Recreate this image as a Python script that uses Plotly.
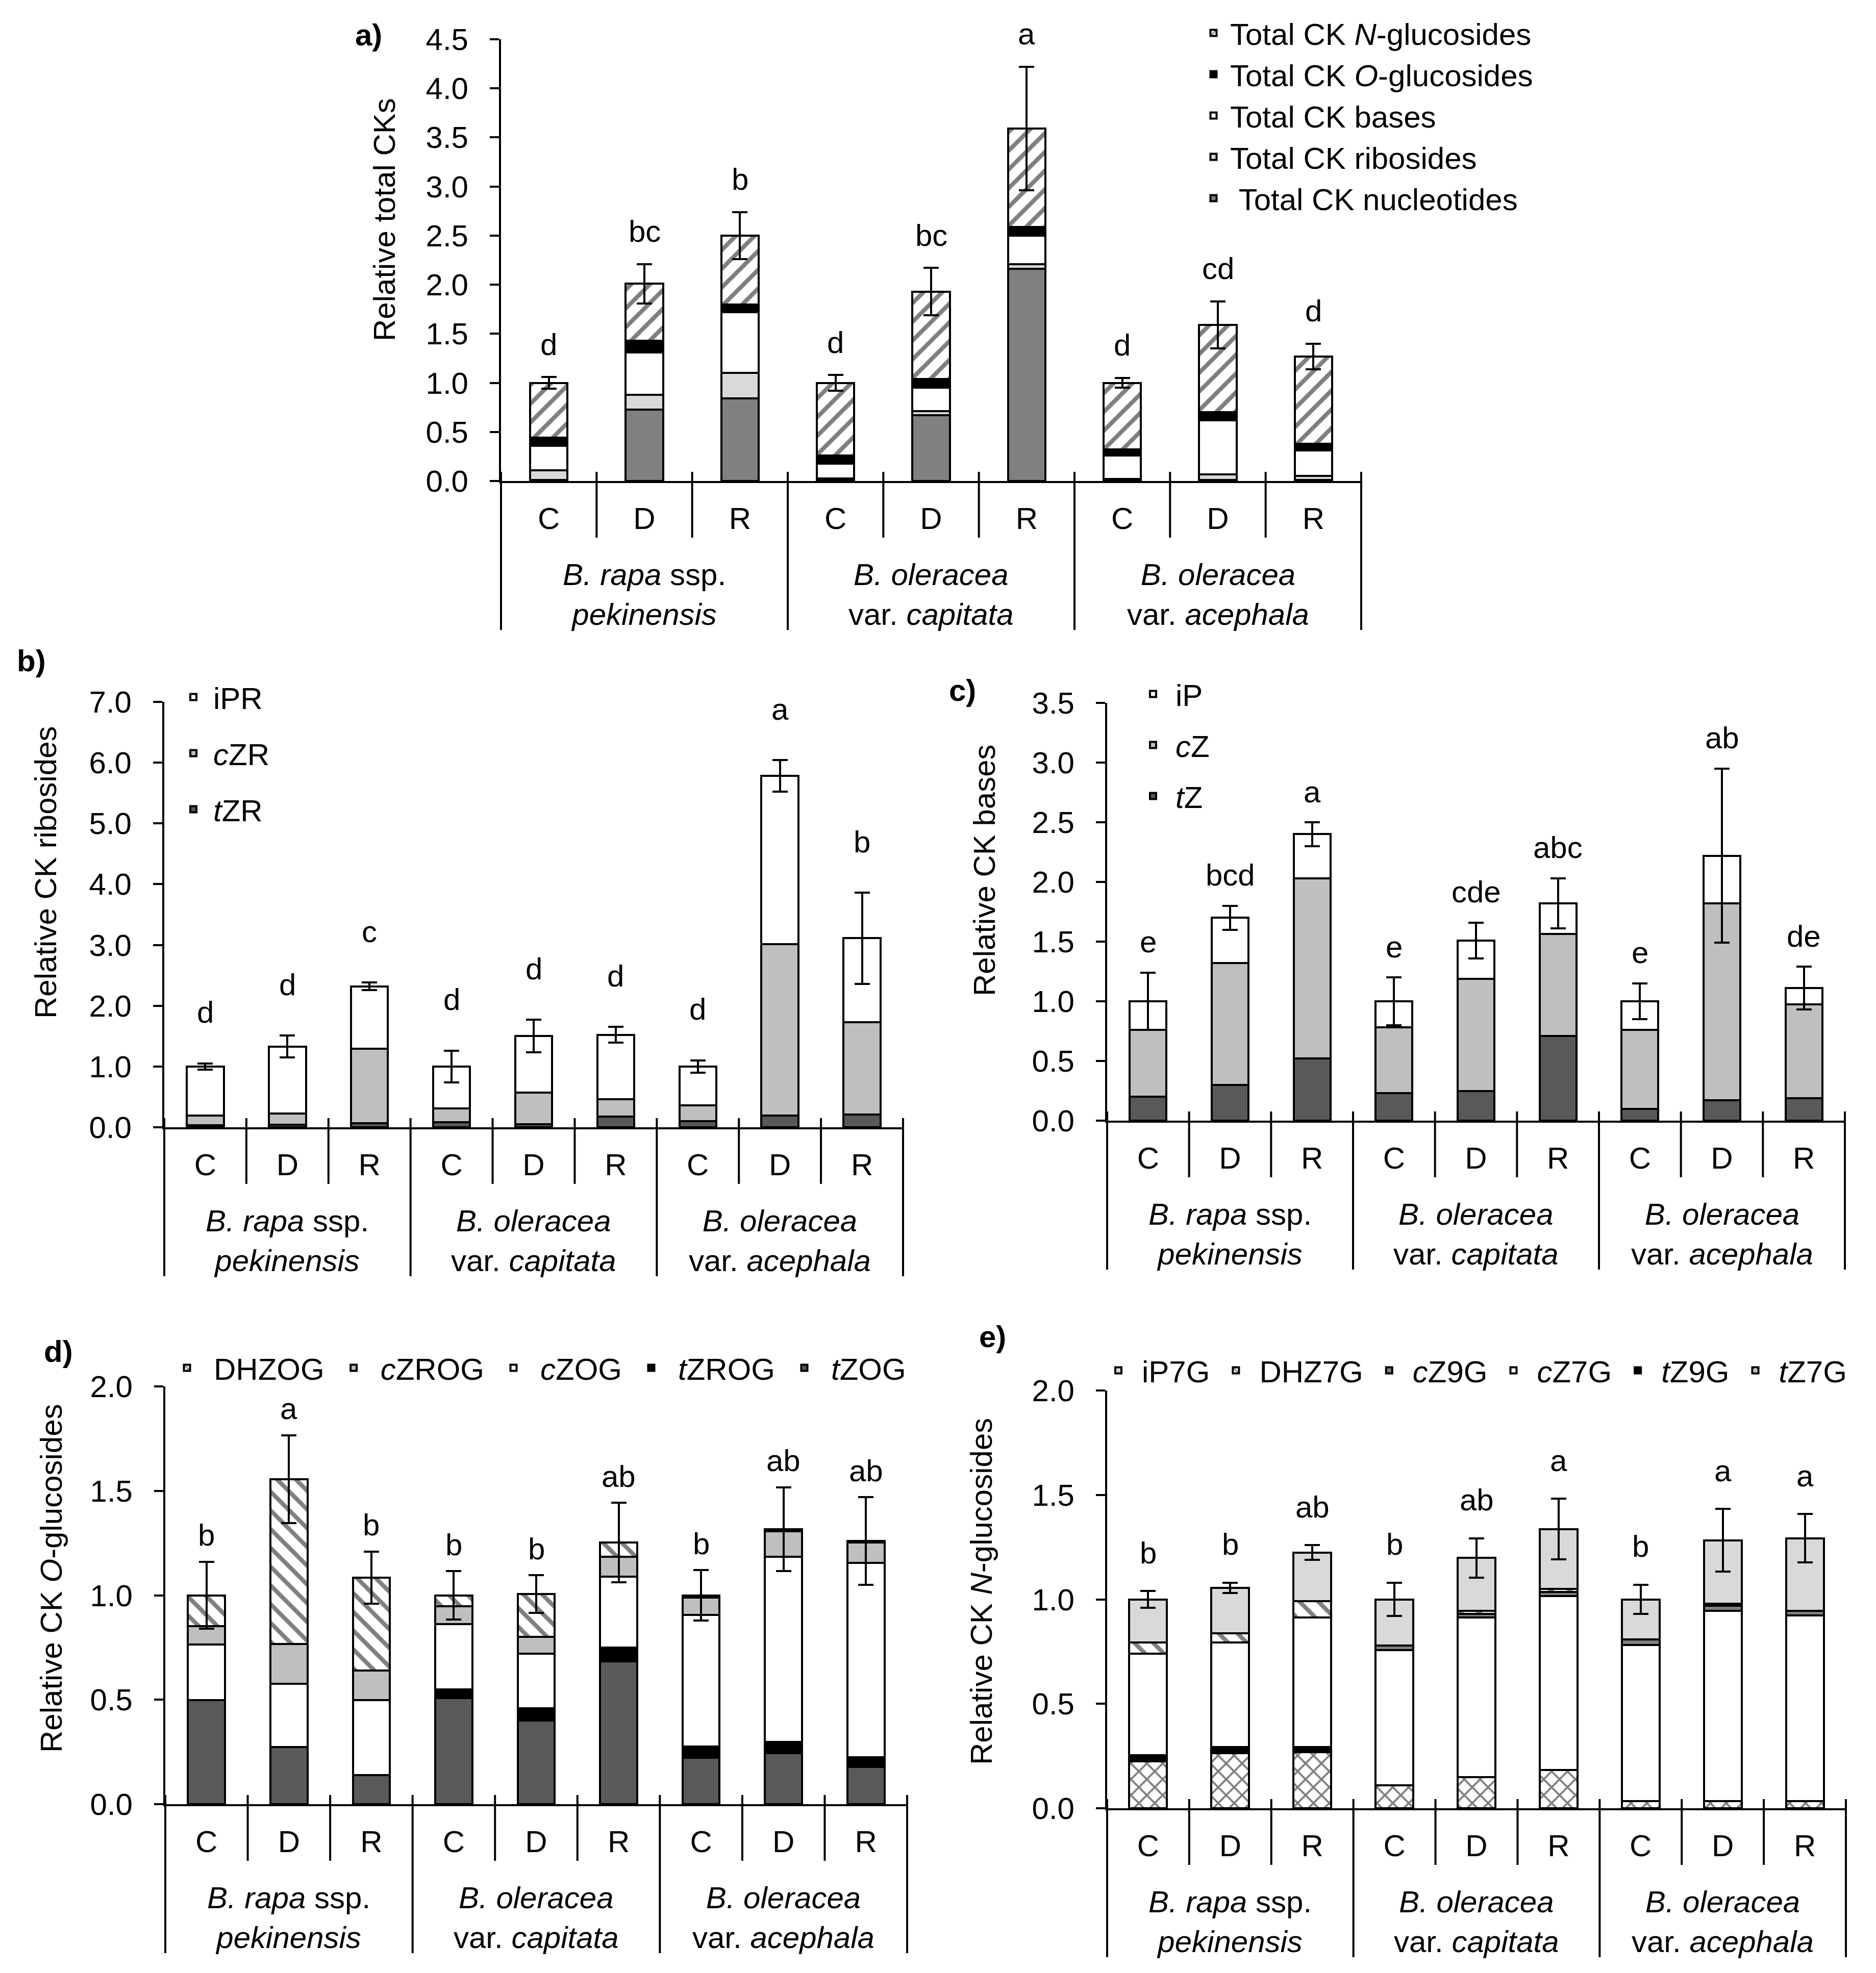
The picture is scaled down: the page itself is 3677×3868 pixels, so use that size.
import plotly.graph_objects as go

W, H = 3677, 3868
FONT = "Liberation Sans, Arial, sans-serif"

species = ["<i>B. rapa</i> ssp.<br><i>pekinensis</i>",
           "<i>B. oleracea</i><br>var. <i>capitata</i>",
           "<i>B. oleracea</i><br>var. <i>acephala</i>"]
treatments = ["C", "D", "R"]

# a) total CKs, segments bottom -> top
total_nucleotides = [0.01, 0.73, 0.84, 0.01, 0.67, 2.16, 0.01, 0.01, 0.01]
total_ribosides = [0.10, 0.15, 0.26, 0.015, 0.04, 0.05, 0.01, 0.06, 0.04]
total_bases = [0.25, 0.43, 0.62, 0.15, 0.24, 0.29, 0.24, 0.55, 0.26]
total_o_gluc = [0.08, 0.12, 0.08, 0.085, 0.09, 0.09, 0.06, 0.08, 0.07]
total_n_gluc = [0.56, 0.58, 0.70, 0.74, 0.89, 1.00, 0.68, 0.89, 0.89]
err_a = [0.06, 0.20, 0.24, 0.08, 0.24, 0.63, 0.05, 0.24, 0.13]
letters_a = ["d", "bc", "b", "d", "bc", "a", "d", "cd", "d"]

# b) ribosides
tZR = [0.03, 0.04, 0.07, 0.08, 0.05, 0.18, 0.10, 0.195, 0.21]
cZR = [0.165, 0.19, 1.22, 0.23, 0.52, 0.28, 0.26, 2.815, 1.52]
iPR = [0.805, 1.10, 1.03, 0.69, 0.93, 1.06, 0.64, 2.77, 1.38]
err_b = [0.05, 0.18, 0.06, 0.26, 0.27, 0.13, 0.10, 0.26, 0.75]
letters_b = ["d", "d", "c", "d", "d", "d", "d", "a", "b"]

# c) bases
tZ = [0.20, 0.30, 0.52, 0.23, 0.25, 0.71, 0.10, 0.17, 0.19]
cZ = [0.56, 1.02, 1.51, 0.55, 0.94, 0.855, 0.66, 1.65, 0.785]
iP = [0.24, 0.38, 0.37, 0.22, 0.32, 0.255, 0.24, 0.40, 0.135]
err_c = [0.24, 0.10, 0.10, 0.20, 0.15, 0.21, 0.15, 0.73, 0.18]
letters_c = ["e", "bcd", "a", "e", "cde", "abc", "e", "ab", "de"]

# d) O-glucosides
tZOG = [0.497, 0.273, 0.139, 0.507, 0.40, 0.683, 0.222, 0.244, 0.178]
tZROG = [0.0, 0.0, 0.0, 0.043, 0.06, 0.066, 0.055, 0.053, 0.046]
cZOG = [0.267, 0.303, 0.358, 0.313, 0.26, 0.341, 0.630, 0.887, 0.931]
cZROG = [0.089, 0.192, 0.143, 0.084, 0.08, 0.094, 0.083, 0.123, 0.098]
DHZOG = [0.147, 0.788, 0.445, 0.053, 0.206, 0.069, 0.01, 0.01, 0.007]
err_d = [0.16, 0.21, 0.125, 0.115, 0.09, 0.19, 0.12, 0.20, 0.21]
letters_d = ["b", "a", "b", "b", "b", "ab", "b", "ab", "ab"]

# e) N-glucosides
tZ7G = [0.224, 0.263, 0.269, 0.11, 0.15, 0.184, 0.035, 0.035, 0.035]
tZ9G = [0.029, 0.03, 0.024, 0.0, 0.0, 0.0, 0.0, 0.0, 0.0]
cZ7G = [0.486, 0.501, 0.62, 0.648, 0.763, 0.832, 0.747, 0.911, 0.888]
cZ9G = [0.0, 0.0, 0.0, 0.02, 0.017, 0.02, 0.026, 0.024, 0.022]
DHZ7G = [0.055, 0.044, 0.079, 0.0, 0.016, 0.014, 0.0, 0.01, 0.0]
iP7G = [0.206, 0.217, 0.232, 0.222, 0.252, 0.287, 0.192, 0.303, 0.348]
err_e = [0.04, 0.025, 0.035, 0.08, 0.095, 0.145, 0.07, 0.15, 0.115]
letters_e = ["b", "b", "ab", "b", "ab", "a", "b", "a", "a"]


def fill(color, shape=""):
    m = dict(color=color, line=dict(color="black", width=4))
    if shape:
        m["pattern"] = dict(shape=shape, fgcolor="black", bgcolor=color,
                            size=26 if shape != "x" else 22, solidity=0.32)
    return m


panels = [
    dict(label="a)", title="Relative total CKs",
         series=[("\u00a0Total CK nucleotides", total_nucleotides, fill("#808080")),
                 ("Total CK ribosides", total_ribosides, fill("#d9d9d9")),
                 ("Total CK bases", total_bases, fill("white")),
                 ("Total CK <i>O</i>-glucosides", total_o_gluc, fill("black")),
                 ("Total CK <i>N</i>-glucosides", total_n_gluc, fill("white", "/"))],
         err=err_a, letters=letters_a, ymax=4.5, dtick=0.5, gap=0.61,
         box=(974, 2660, 935, 69), shift=64, lab=(714, 60), tit=(745, 423),
         legend=dict(x=2338, y=11, itemwidth=55, horiz=False, gap=0)),
    dict(label="b)", title="Relative CK ribosides",
         series=[("<i>t</i>ZR", tZR, fill("#595959")),
                 ("<i>c</i>ZR", cZR, fill("#bfbfbf")),
                 ("iPR", iPR, fill("white"))],
         err=err_b, letters=letters_b, ymax=7.0, dtick=1.0, gap=0.55,
         box=(314, 1762, 2202, 1368), shift=100, lab=(53, 1287), tit=(82, 1702),
         legend=dict(x=332, y=1313, itemwidth=68, horiz=False, gap=29)),
    dict(label="c)", title="Relative CK bases",
         series=[("<i>t</i>Z", tZ, fill("#595959")),
                 ("<i>c</i>Z", cZ, fill("#bfbfbf")),
                 ("iP", iP, fill("white"))],
         err=err_c, letters=letters_c, ymax=3.5, dtick=0.5, gap=0.55,
         box=(2162, 3608, 2189, 1370), shift=60, lab=(1878, 1345), tit=(1922, 1698),
         legend=dict(x=2208, y=1307, itemwidth=78, horiz=False, gap=19)),
    dict(label="d)", title="Relative CK <i>O</i>-glucosides",
         series=[("<i>t</i>ZOG", tZOG, fill("#595959")),
                 ("<i>t</i>ZROG", tZROG, fill("black")),
                 ("<i>c</i>ZOG", cZOG, fill("white")),
                 ("<i>c</i>ZROG", cZROG, fill("#bfbfbf")),
                 ("DHZOG", DHZOG, fill("white", "\\"))],
         err=err_d, letters=letters_d, ymax=2.0, dtick=0.5, gap=0.55,
         box=(316, 1770, 3529, 2710), shift=52, lab=(106, 2641), tit=(92, 3086),
         legend=dict(x=306, y=2628, itemwidth=95, horiz=True, gap=0)),
    dict(label="e)", title="Relative CK <i>N</i>-glucosides",
         series=[("<i>t</i>Z7G", tZ7G, fill("white", "x")),
                 ("<i>t</i>Z9G", tZ9G, fill("black")),
                 ("<i>c</i>Z7G", cZ7G, fill("white")),
                 ("<i>c</i>Z9G", cZ9G, fill("#808080")),
                 ("DHZ7G", DHZ7G, fill("white", "\\")),
                 ("iP7G", iP7G, fill("#d9d9d9"))],
         err=err_e, letters=letters_e, ymax=2.0, dtick=0.5, gap=0.54,
         box=(2162, 3610, 3537, 2718), shift=75, lab=(1937, 2612), tit=(1915, 3112),
         legend=dict(x=2138, y=2633, itemwidth=82, horiz=True, gap=0)),
]

fig = go.Figure()
layout = {}
annotations = []
shapes = []
ncat = len(species) * len(treatments)
xpos = list(range(ncat))

for k, p in enumerate(panels):
    n = "" if k == 0 else str(k + 1)
    xa, ya, lg = "x" + n, "y" + n, "legend" + n
    lgd = p["legend"]
    last = len(p["series"]) - 1
    for j, (name, vals, marker) in enumerate(p["series"]):
        err = dict(type="data", array=p["err"], color="black", thickness=4, width=15) if j == last else None
        fig.add_trace(go.Bar(x=xpos, y=vals, name=name, marker=marker, xaxis=xa, yaxis=ya,
                             legend=lg, legendrank=last - j + 1,
                             legendgroup=None if lgd["horiz"] else lg + str(j),
                             error_y=err, width=1 - p["gap"]))
    x0, x1, ybot, ytop = p["box"]
    layout["xaxis" + n] = dict(domain=[x0 / W, x1 / W], anchor=ya, range=[-0.5, ncat - 0.5],
                               tickvals=xpos, ticktext=treatments * len(species),
                               showline=True, linecolor="black", linewidth=4, ticks="",
                               ticklabelstandoff=18, showgrid=False, zeroline=False,
                               automargin=False)
    layout["yaxis" + n] = dict(domain=[1 - ybot / H, 1 - ytop / H], anchor=xa, range=[0, p["ymax"]],
                               dtick=p["dtick"], tickformat=".1f", showline=True, linecolor="black",
                               linewidth=4, ticks="outside", ticklen=18, tickwidth=4, tickcolor="black",
                               ticklabelstandoff=30, showgrid=False, zeroline=False,
                               automargin=False)
    layout[lg] = dict(x=lgd["x"] / W, y=1 - lgd["y"] / H, xanchor="left", yanchor="top",
                      orientation="h" if lgd["horiz"] else "v", itemwidth=lgd["itemwidth"],
                      traceorder="normal" if lgd["horiz"] else "grouped",
                      tracegroupgap=lgd["gap"], bgcolor="rgba(0,0,0,0)", borderwidth=0,
                      font=dict(size=60, family=FONT, color="black"))

    # letters above the error bars
    totals = [sum(v) for v in zip(*[s[1] for s in p["series"]])]
    for i, (t, e, txt) in enumerate(zip(totals, p["err"], p["letters"])):
        annotations.append(dict(x=i, y=t + e, xref=xa, yref=ya, text=txt, showarrow=False,
                                yanchor="middle", yshift=p["shift"]))
    # species labels
    for g, sp in enumerate(species):
        annotations.append(dict(x=g * 3 + 1, y=0, xref=xa, yref=ya, text=sp, showarrow=False,
                                yanchor="middle", yshift=-222))
    # category separators below the axis
    for b in range(ncat + 1):
        shapes.append(dict(type="line", xref=xa + " domain", yref=ya + " domain",
                           x0=b / ncat, x1=b / ncat,
                           ysizemode="pixel", yanchor=0, y0=18, y1=-292 if b % 3 == 0 else -111,
                           line=dict(color="black", width=4)))
    annotations.append(dict(x=p["tit"][0] / W, y=1 - p["tit"][1] / H, xref="paper", yref="paper",
                            text=p["title"], textangle=-90, showarrow=False,
                            xanchor="center", yanchor="middle"))
    annotations.append(dict(x=p["lab"][0] / W, y=1 - p["lab"][1] / H, xref="paper", yref="paper",
                            text="<b>" + p["label"] + "</b>", showarrow=False,
                            xanchor="center", yanchor="middle"))

fig.update_layout(**layout)
fig.update_layout(
    width=W, height=H, margin=dict(l=0, r=0, t=0, b=0, autoexpand=False),
    barmode="stack",
    paper_bgcolor="white", plot_bgcolor="white",
    font=dict(family=FONT, size=60, color="black"),
    annotations=annotations, shapes=shapes,
)
fig.write_html("out.html")
